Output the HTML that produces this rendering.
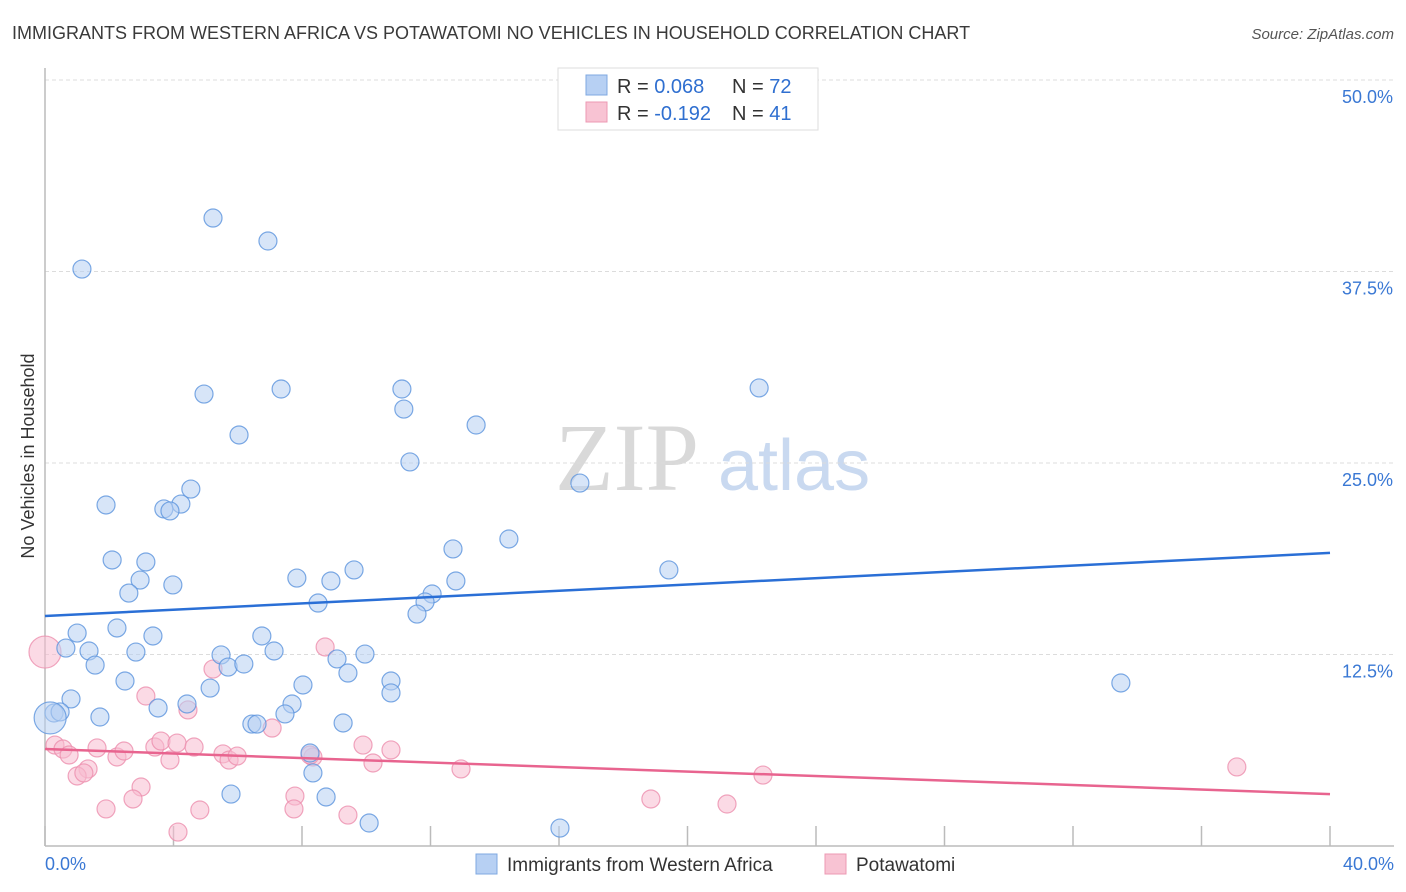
<!DOCTYPE html>
<html><head><meta charset="utf-8"><style>
body{margin:0;background:#fff;font-family:"Liberation Sans",sans-serif}
</style></head><body>
<svg id="chart" width="1406" height="892" xmlns="http://www.w3.org/2000/svg" style="display:block">
<text x="12" y="39" font-size="18" fill="#3a3a3a">IMMIGRANTS FROM WESTERN AFRICA VS POTAWATOMI NO VEHICLES IN HOUSEHOLD CORRELATION CHART</text>
<text x="1394" y="39" font-size="15" fill="#555" font-style="italic" text-anchor="end">Source: ZipAtlas.com</text>
<text transform="translate(34,456) rotate(-90)" font-size="18" fill="#333" text-anchor="middle">No Vehicles in Household</text>
<g><text x="555" y="490" font-size="96" fill="#d9d9d9" font-family="Liberation Serif,serif">ZIP</text><text x="718" y="490" font-size="72" fill="#c9d9f0">atlas</text></g>
<g id="grid"></g><g id="axes"></g><g id="pts"></g><g id="trend"></g>
<g>
<rect x="558" y="68" width="260" height="62" fill="#fff" stroke="#ddd"/>
<rect x="586" y="75" width="21" height="20" fill="#b7d0f3" stroke="#7fa8e0"/>
<rect x="586" y="102" width="21" height="20" fill="#f8c3d3" stroke="#ec98b3"/>
<text x="617" y="93" font-size="20" fill="#333">R = <tspan fill="#2f6fd0">0.068</tspan><tspan x="732">N = </tspan><tspan fill="#2f6fd0">72</tspan></text>
<text x="617" y="120" font-size="20" fill="#333">R = <tspan fill="#2f6fd0">-0.192</tspan><tspan x="732">N = </tspan><tspan fill="#2f6fd0">41</tspan></text>
</g>
<g>
<rect x="476" y="854" width="21" height="20" fill="#b7d0f3" stroke="#7fa8e0"/>
<text x="507" y="871" font-size="19" fill="#333">Immigrants from Western Africa</text>
<rect x="825" y="854" width="21" height="20" fill="#f8c3d3" stroke="#ec98b3"/>
<text x="856" y="871" font-size="19" fill="#333">Potawatomi</text>
</g>
</svg>
<script>
const blueX=[1.15,5.23,6.94,4.95,7.35,11.11,11.17,22.23,6.04,13.42,11.36,16.65,1.90,4.54,4.23,3.70,3.89,2.09,3.14,12.70,14.44,2.96,2.61,3.98,7.84,8.90,9.62,12.79,19.42,12.05,11.83,8.50,11.58,2.24,1.00,3.36,0.65,1.37,2.83,1.56,6.75,5.48,5.70,6.19,7.13,9.09,9.96,9.43,2.49,5.14,8.03,10.77,10.77,0.81,4.42,3.52,7.69,7.47,0.28,0.47,1.71,6.44,6.60,9.28,33.49,8.25,8.34,5.79,8.75,10.09,16.03,0.16];
const blueY=[37.66,40.99,39.49,29.50,29.83,29.83,28.52,29.90,26.83,27.48,25.07,23.69,22.26,23.30,22.32,22.00,21.87,18.67,18.54,19.39,20.04,17.36,16.51,17.04,17.49,17.30,18.02,17.30,18.02,16.45,15.93,15.86,15.14,14.23,13.90,13.71,12.92,12.73,12.66,11.81,13.71,12.47,11.68,11.88,12.73,12.21,12.53,11.29,10.77,10.31,10.51,10.77,9.99,9.60,9.27,9.01,9.27,8.62,8.68,8.75,8.42,7.96,7.96,8.03,10.64,6.07,4.77,3.39,3.20,1.50,1.17,8.36];
const blueBig=[71];
const pinkX=[8.72,5.23,3.14,4.45,7.07,0.31,0.56,0.75,1.62,2.24,2.46,3.42,3.61,4.11,4.64,3.89,5.54,5.73,5.98,8.34,9.90,10.77,10.21,12.95,22.35,37.10,1.34,1.00,1.21,2.99,2.74,1.90,4.82,7.78,7.75,9.43,4.14,18.86,21.23,8.25,0];
const pinkY=[12.99,11.55,9.79,8.88,7.70,6.59,6.33,5.94,6.40,5.81,6.20,6.46,6.85,6.72,6.46,5.61,6.01,5.61,5.87,5.81,6.59,6.27,5.42,5.03,4.63,5.16,5.03,4.57,4.77,3.85,3.07,2.42,2.35,3.26,2.42,2.02,0.91,3.07,2.74,5.94,12.66];
const pinkBig=[40];
const blueTrend=[15.01,19.13];
const pinkTrend=[6.33,3.39];
const yTicks=[12.5,25,37.5,50];
const yTickLabels=["12.5%","25.0%","37.5%","50.0%"];
const xTicks=[0,4,8,12,16,20,24,28,32,36,40];
const xTickLabels=["0.0%","40.0%"];
const NS="http://www.w3.org/2000/svg";
const xs=v=>45+v/40*1285;
const ys=v=>846-v/50*766;
function mk(t,a,p){const e=document.createElementNS(NS,t);for(const k in a)e.setAttribute(k,a[k]);p.appendChild(e);return e;}
const grid=document.getElementById('grid'),axes=document.getElementById('axes'),pts=document.getElementById('pts'),trend=document.getElementById('trend');
yTicks.forEach((v,i)=>{
 const l=mk('line',{x1:45,x2:1394,y1:ys(v),y2:ys(v),stroke:'#dcdcdc','stroke-dasharray':'4 3'},grid);
 
 
 const t=mk('text',{x:1393,y:ys(v)+23,'font-size':18,fill:'#3a78d4','text-anchor':'end'},grid);
 t.textContent=yTickLabels[i];
 
 
});
const ya=mk('line',{x1:45,x2:45,y1:68,y2:846,stroke:'#bbb','stroke-width':1.5},axes);


const xa=mk('line',{x1:45,x2:1394,y1:846,y2:846,stroke:'#bbb','stroke-width':1.5},axes);


xTicks.forEach(v=>{
 const t=mk('line',{x1:xs(v),x2:xs(v),y1:826,y2:846,stroke:'#bbb','stroke-width':1.5},axes);
 
 
});
[[0,'start',45],[40,'end',1394]].forEach((d,i)=>{
 const t=mk('text',{x:d[2],y:870,'font-size':18,fill:'#3a78d4','text-anchor':d[1]},axes);
 t.textContent=xTickLabels[i];
 
 
});
function draw(X,Y,big,fill,stroke,name){
 X.forEach((v,i)=>{
  const c=mk('circle',{cx:xs(v),cy:ys(Y[i]),r:big.includes(i)?16:9,fill:fill,'fill-opacity':0.55,stroke:stroke,'stroke-opacity':0.8,'stroke-width':1.2},pts);
  
  
 });
}
draw(pinkX,pinkY,pinkBig,'#f8bcd0','#ec8fae','potawatomi-point');
draw(blueX,blueY,blueBig,'#b7d0f3','#5b93dd','western-africa-point');
const bl=mk('line',{x1:xs(0),x2:xs(40),y1:ys(blueTrend[0]),y2:ys(blueTrend[1]),stroke:'#2a6fd6','stroke-width':2.5},trend);


const pl=mk('line',{x1:xs(0),x2:xs(40),y1:ys(pinkTrend[0]),y2:ys(pinkTrend[1]),stroke:'#e8648f','stroke-width':2.5},trend);


</script>
</body></html>
